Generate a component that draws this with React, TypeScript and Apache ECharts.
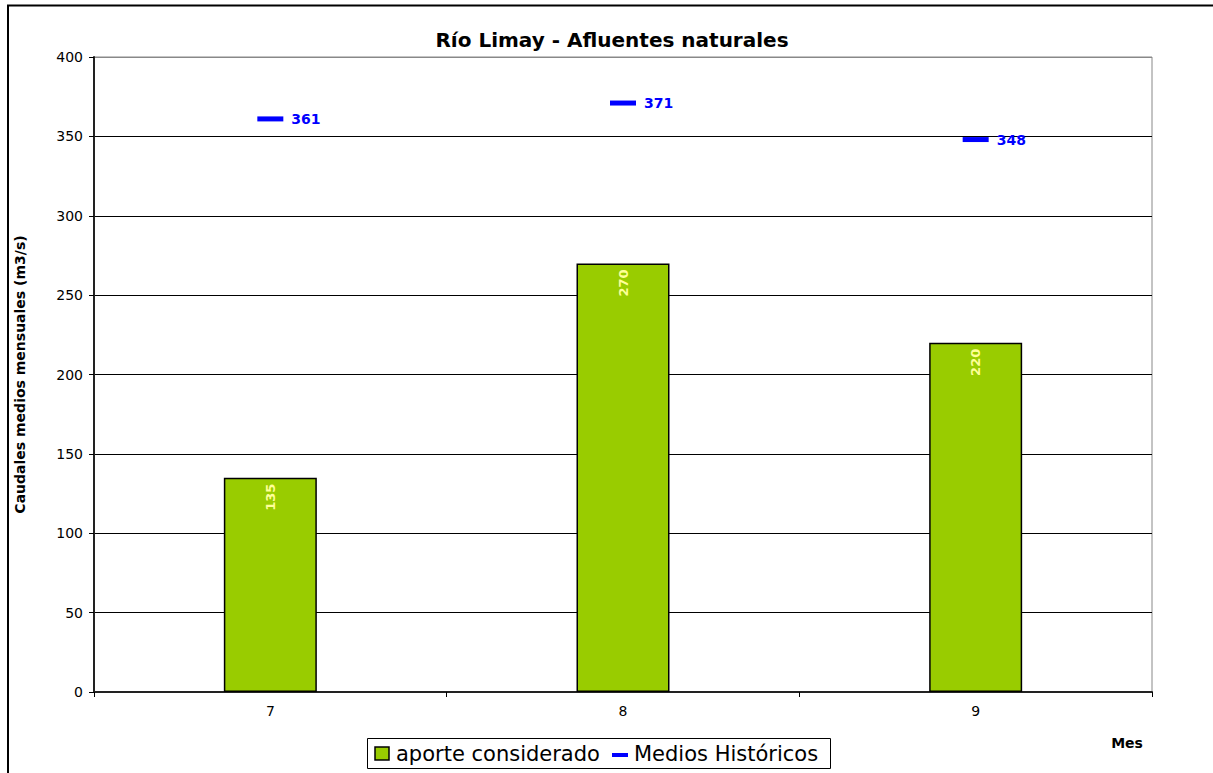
import React, { useEffect, useRef } from "react";
import * as echarts from "echarts";

const categories = ["7", "8", "9"];
const aporteConsiderado = [135, 270, 220];
const mediosHistoricos = [361, 371, 348];
const titleText = "Río Limay - Afluentes naturales";
const yAxisName = "Caudales medios mensuales (m3/s)";
const xAxisName = "Mes";
const seriesNames = ["aporte considerado", "Medios Históricos"];

const FONT = "'DejaVu Sans', 'Liberation Sans', Arial, sans-serif";

export default function App() {
  const ref = useRef<HTMLDivElement>(null);
  useEffect(() => {
    if (!ref.current) return;
    const chart = echarts.init(ref.current, null, { renderer: "svg" });
    const gridColors = ["#000", "#000", "#000", "#000", "#000", "#000", "#000", "#000", "#888"];
    chart.setOption({
      animation: false,
      backgroundColor: "#fff",
      textStyle: { fontFamily: FONT },
      grid: { left: 94, top: 57, right: 61, bottom: 81, show: true, borderColor: "#888", borderWidth: 1, backgroundColor: "transparent" },
      xAxis: {
        type: "category",
        data: categories,
        axisLine: { show: true, lineStyle: { color: "#222", width: 2 } },
        axisTick: { show: true, inside: false, length: 5, alignWithLabel: false, lineStyle: { color: "#000", width: 1 } },
        axisLabel: { color: "#000", fontSize: 14, fontFamily: FONT, margin: 12 },
        splitLine: { show: false },
      },
      yAxis: {
        type: "value",
        min: 0,
        max: 400,
        interval: 50,
        name: yAxisName,
        nameLocation: "middle",
        nameGap: 67,
        nameRotate: 90,
        nameTextStyle: { color: "#000", fontSize: 14, fontWeight: "bold", fontFamily: FONT },
        axisLine: { show: true, lineStyle: { color: "#222", width: 2 } },
        axisTick: { show: true, inside: false, length: 5, lineStyle: { color: "#000", width: 1 } },
        axisLabel: { color: "#000", fontSize: 14, fontFamily: FONT, margin: 11 },
        splitLine: { show: true, lineStyle: { color: gridColors, width: 1 } },
      },
      series: [
        {
          name: seriesNames[0],
          type: "bar",
          data: aporteConsiderado,
          barWidth: 93,
          itemStyle: { color: "#99CC00", borderColor: "#000", borderWidth: 1.5 },
          label: {
            show: true,
            position: "insideTop",
            rotate: 90,
            align: "right",
            verticalAlign: "middle",
            distance: 6,
            color: "#FFFF99",
            fontWeight: "bold",
            fontSize: 13,
            fontFamily: FONT,
          },
          z: 2,
        },
        {
          name: seriesNames[1],
          type: "scatter",
          data: mediosHistoricos,
          symbol: "rect",
          symbolSize: [26, 5],
          itemStyle: { color: "#0000FF", opacity: 1 },
          label: {
            show: true,
            position: "right",
            distance: 8,
            color: "#0000FF",
            opacity: 1,
            fontWeight: "bold",
            fontSize: 14,
            fontFamily: FONT,
          },
          z: 3,
        },
      ],
      graphic: [
        {
          type: "rect",
          shape: { x: 8, y: 5.5, width: 1400, height: 1000 },
          style: { fill: "none", stroke: "#000", lineWidth: 2 },
          silent: true,
        },
        {
          type: "text",
          x: 612,
          y: 40,
          style: { text: titleText, fill: "#000", font: `bold 20px ${FONT}`, textAlign: "center", textVerticalAlign: "middle" },
        },
        {
          type: "text",
          x: 1127,
          y: 743,
          style: { text: xAxisName, fill: "#000", font: `bold 14px ${FONT}`, textAlign: "center", textVerticalAlign: "middle" },
        },
        {
          type: "rect",
          shape: { x: 367.5, y: 738.5, width: 463, height: 30 },
          style: { fill: "#fff", stroke: "#000", lineWidth: 1 },
        },
        {
          type: "rect",
          shape: { x: 375, y: 747, width: 14, height: 13 },
          style: { fill: "#99CC00", stroke: "#000", lineWidth: 1.5 },
        },
        {
          type: "text",
          x: 396,
          y: 754,
          style: { text: seriesNames[0], fill: "#000", font: `21px ${FONT}`, textAlign: "left", textVerticalAlign: "middle" },
        },
        {
          type: "rect",
          shape: { x: 612, y: 753, width: 16, height: 4 },
          style: { fill: "#0000FF" },
        },
        {
          type: "text",
          x: 634,
          y: 754,
          style: { text: seriesNames[1], fill: "#000", font: `21px ${FONT}`, textAlign: "left", textVerticalAlign: "middle" },
        },
      ],
    });
    return () => chart.dispose();
  }, []);
  return (
    <div
      ref={ref}
      style={{ position: "fixed", left: 0, top: 0, width: 1213, height: 773 }}
    />
  );
}
